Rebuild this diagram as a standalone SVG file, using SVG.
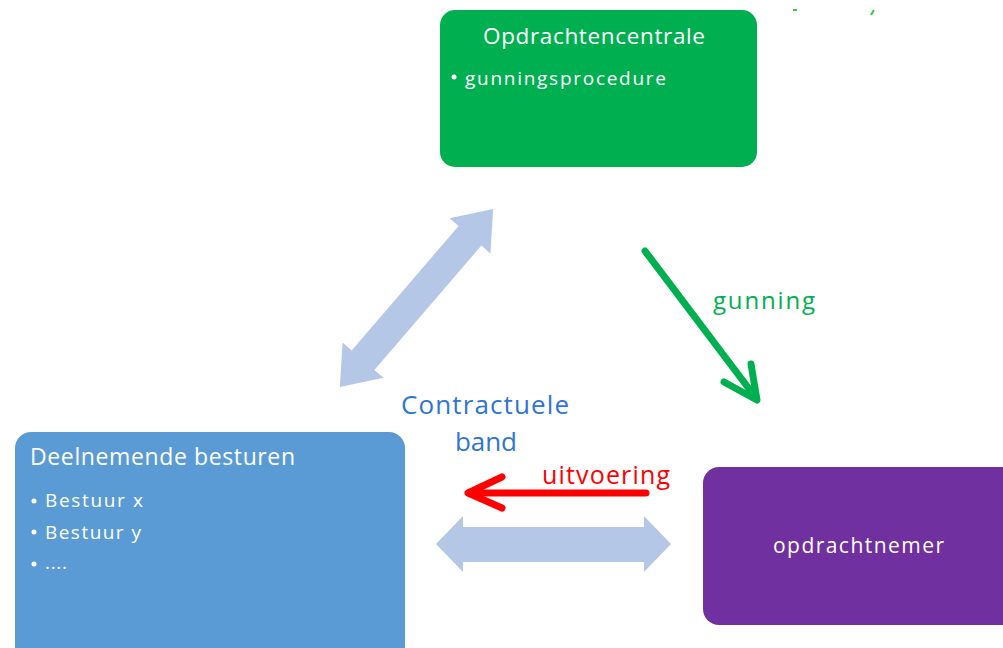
<svg xmlns="http://www.w3.org/2000/svg" width="1003" height="648" viewBox="0 0 1003 648">
<style>
.t{font-family:"Open Sans","Noto Sans","Liberation Sans",sans-serif;}
.w{fill:#ffffff;}
.band{fill:#b4c7e7;}
</style>
<rect width="1003" height="648" fill="#ffffff"/>
<g id="connectors">
<polygon class="band" transform="translate(416.5,298) rotate(-49.3)" points="-117.5,0 -82,-27 -82,-15 82,-15 82,-27 117.5,0 82,27 82,15 -82,15 -82,27"/>
<polygon class="band" points="436,544 463,516 463,527 644,527 644,516 671,544 644,572 644,562 463,562 463,572"/>
<g fill="none" stroke="#00b050" stroke-width="7" stroke-linecap="round" stroke-linejoin="round">
<line x1="645" y1="251" x2="756" y2="398"/>
<polyline points="724,382 757,400 751,364"/>
</g>
<g fill="none" stroke="#ff0000" stroke-width="7" stroke-linecap="round" stroke-linejoin="round">
<line x1="646" y1="493" x2="470" y2="493"/>
<polyline points="502,477 468,493 502,508"/>
</g>
<g stroke="#33cc33" stroke-width="2">
<line x1="793" y1="10" x2="797" y2="10"/>
<line x1="871" y1="15" x2="874" y2="10"/>
</g>
</g>
<g id="opdrachtencentrale">
<rect x="440" y="10" width="317" height="157" rx="15" fill="#00b050"/>
<text class="t w" x="483" y="44" font-size="22.5" textLength="222">Opdrachtencentrale</text>
<circle class="w" cx="454" cy="77" r="2.5"/>
<text class="t w" x="465" y="85" font-size="19" textLength="201">gunningsprocedure</text>
</g>
<g id="deelnemende-besturen">
<rect x="15" y="432" width="390" height="230" rx="16" fill="#5b9bd5"/>
<text class="t w" x="30" y="465" font-size="23" textLength="265">Deelnemende besturen</text>
<circle class="w" cx="34" cy="501" r="2.5"/>
<text class="t w" x="45" y="507" font-size="19" textLength="98">Bestuur x</text>
<circle class="w" cx="34" cy="532" r="2.5"/>
<text class="t w" x="45" y="539" font-size="19" textLength="96">Bestuur y</text>
<circle class="w" cx="34" cy="564" r="2.5"/>
<text class="t w" x="45" y="569" font-size="19" textLength="22">....</text>
</g>
<g id="opdrachtnemer">
<rect x="703" y="467" width="320" height="158" rx="16" fill="#7030a0"/>
<text class="t w" x="773" y="553" font-size="21" textLength="171">opdrachtnemer</text>
</g>
<g id="labels">
<text class="t" x="401" y="414" font-size="26" fill="#2e75d6" textLength="168">Contractuele</text>
<text class="t" x="455" y="451" font-size="26" fill="#2e75d6" textLength="62">band</text>
<text class="t" x="542" y="484" font-size="25" fill="#ff0000" textLength="128">uitvoering</text>
<text class="t" x="713" y="309" font-size="24" fill="#00b050" textLength="102">gunning</text>
</g>
</svg>
